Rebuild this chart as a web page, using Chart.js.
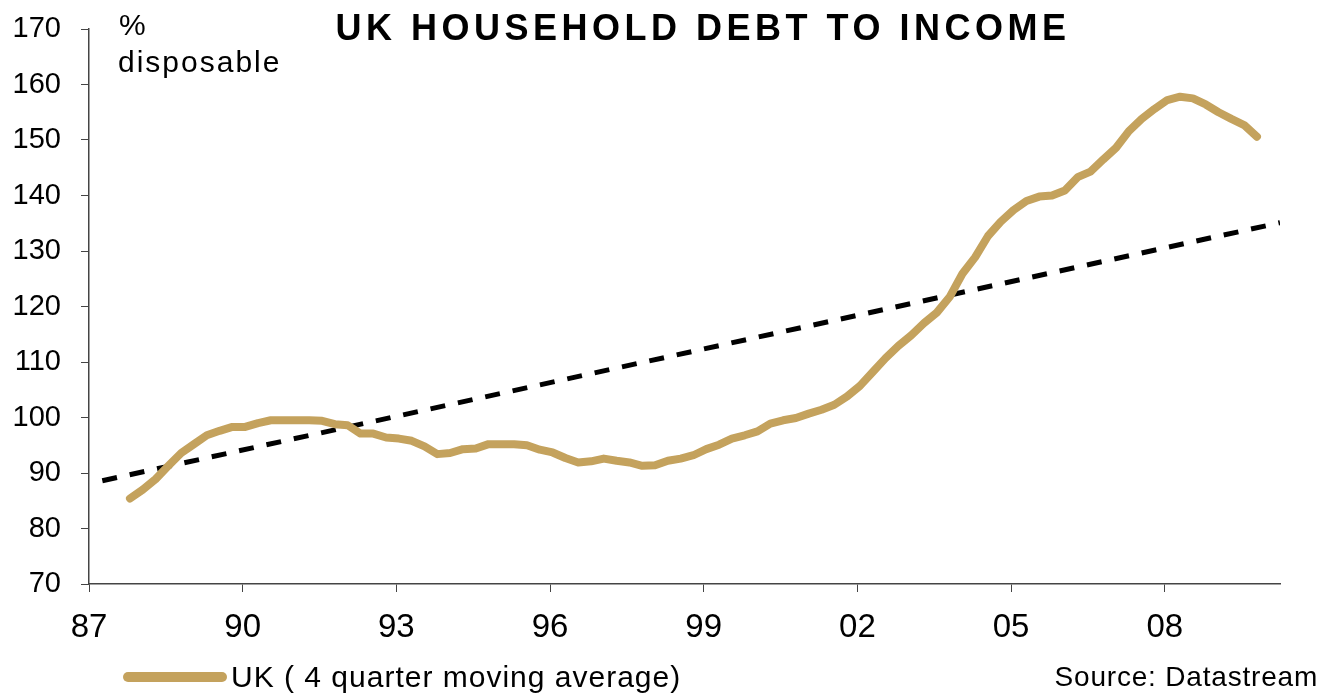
<!DOCTYPE html>
<html>
<head>
<meta charset="utf-8">
<script src="https://cdn.jsdelivr.net/npm/chart.js@4"></script>
<style>
  body { margin: 0; background: #fff; }
  #wrap { width: 1323px; height: 696px; position: relative; }
</style>
</head>
<body>
<div id="wrap"><canvas id="debtChart"></canvas></div>
<script>
// UK household debt, % of disposable income, 4 quarter moving average, 1987Q4 - 2009Q4
const firstQuarter = 1987.8;
const debtToIncome = [
  85.4, 87.0, 88.9, 91.3, 93.6, 95.2, 96.8, 97.6, 98.3, 98.3,
  99.0, 99.5, 99.5, 99.5, 99.5, 99.4, 98.8, 98.6, 97.1, 97.1,
  96.4, 96.2, 95.8, 94.8, 93.4, 93.6, 94.3, 94.4, 95.2, 95.2,
  95.2, 95.0, 94.2, 93.7, 92.7, 91.9, 92.1, 92.6, 92.2, 91.9,
  91.3, 91.4, 92.2, 92.6, 93.2, 94.3, 95.1, 96.2, 96.8, 97.5,
  98.9, 99.5, 99.9, 100.7, 101.4, 102.3, 103.8, 105.7, 108.2, 110.7,
  112.9, 114.8, 117.0, 118.9, 121.7, 125.9, 128.9, 132.7, 135.3, 137.4,
  139.0, 139.8, 140.0, 140.9, 143.3, 144.3, 146.5, 148.6, 151.6, 153.8,
  155.6, 157.2, 157.8, 157.5, 156.4, 155.0, 153.8, 152.7, 150.6
];
// trend line end points (year, value)
const trendYears = [1987.26, 2010.25];
const trendValues = [88.6, 135.1];
const xTickYears = [1987, 1990, 1993, 1996, 1999, 2002, 2005, 2008];
const yTicks = [70, 80, 90, 100, 110, 120, 130, 140, 150, 160, 170];

const gold = '#C4A25D';
const font = "'Liberation Sans', Arial, sans-serif";

const debtPoints = debtToIncome.map((v, i) => ({ x: firstQuarter + i * 0.25, y: v }));
const trendPoints = trendYears.map((x, i) => ({ x: x, y: trendValues[i] }));

const textPlugin = {
  id: 'chartText',
  afterDraw(chart) {
    const ctx = chart.ctx;
    ctx.save();
    ctx.fillStyle = '#000';
    ctx.textBaseline = 'alphabetic';

    ctx.font = 'bold 36px ' + font;
    ctx.letterSpacing = '4.5px';
    ctx.textAlign = 'center';
    ctx.fillText('UK HOUSEHOLD DEBT TO INCOME', 703, 40);

    ctx.textAlign = 'left';
    ctx.font = '30px ' + font;
    ctx.letterSpacing = '0px';
    ctx.fillText('%', 119, 35);
    ctx.letterSpacing = '2px';
    ctx.fillText('disposable', 118, 72);

    // legend
    ctx.strokeStyle = gold;
    ctx.lineWidth = 10;
    ctx.lineCap = 'round';
    ctx.beginPath();
    ctx.moveTo(128, 677);
    ctx.lineTo(222, 677);
    ctx.stroke();
    ctx.font = '30px ' + font;
    ctx.letterSpacing = '1px';
    ctx.fillText('UK ( 4 quarter moving average)', 231, 687);

    ctx.font = '28px ' + font;
    ctx.letterSpacing = '0.8px';
    ctx.textAlign = 'right';
    ctx.fillText('Source: Datastream', 1318, 686);
    ctx.restore();
  }
};

new Chart(document.getElementById('debtChart'), {
  type: 'line',
  data: {
    datasets: [
      {
        label: 'UK ( 4 quarter moving average)',
        data: debtPoints,
        borderColor: gold,
        borderWidth: 8,
        pointRadius: 0,
        tension: 0,
        borderJoinStyle: 'round',
        borderCapStyle: 'round'
      },
      {
        label: 'trend',
        data: trendPoints,
        borderColor: '#000',
        borderWidth: 5,
        borderDash: [15, 13],
        pointRadius: 0
      }
    ]
  },
  options: {
    responsive: true,
    maintainAspectRatio: false,
    animation: false,
    layout: { padding: { left: 0, top: 29, right: 43, bottom: 0 } },
    plugins: {
      legend: { display: false },
      tooltip: { enabled: false }
    },
    scales: {
      x: {
        type: 'linear',
        min: 1987,
        max: 2010.25,
        afterFit: s => { s.height = 112; s.paddingLeft = 0; s.paddingRight = 0; },
        afterBuildTicks: s => { s.ticks = xTickYears.map(v => ({ value: v })); },
        grid: { drawOnChartArea: false, drawTicks: true, tickLength: 8, color: '#444' },
        border: { color: '#444', width: 1.5 },
        ticks: {
          color: '#000',
          padding: 16,
          maxRotation: 0,
          font: { family: font, size: 33 },
          callback: v => String(v % 100).padStart(2, '0')
        }
      },
      y: {
        min: 70,
        max: 170,
        afterFit: s => { s.width = 89; s.paddingTop = 0; s.paddingBottom = 0; },
        afterBuildTicks: s => { s.ticks = yTicks.map(v => ({ value: v })); },
        grid: { drawOnChartArea: false, drawTicks: true, tickLength: 8, color: '#444' },
        border: { color: '#444', width: 1.5 },
        ticks: {
          color: '#000',
          padding: 20,
          font: { family: font, size: 29 }
        }
      }
    }
  },
  plugins: [textPlugin]
});
</script>
</body>
</html>
